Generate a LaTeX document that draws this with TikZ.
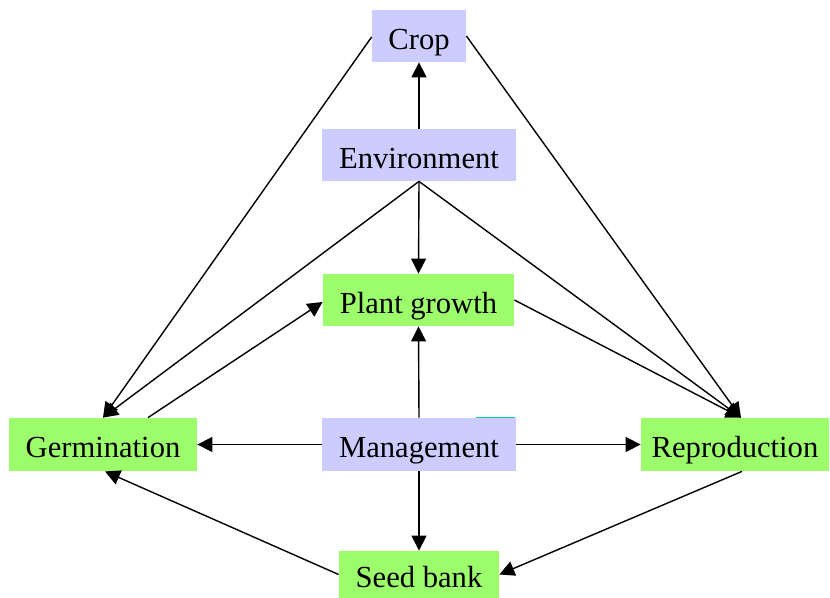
\documentclass[tikz,border=0pt]{standalone}
\usepackage{fontspec}
\setmainfont{Liberation Serif}
\usetikzlibrary{arrows.meta,calc}
\definecolor{lav}{RGB}{204,204,255}
\definecolor{grn}{RGB}{156,252,108}
\definecolor{tealmark}{RGB}{0,204,153}
\tikzset{
  box/.style={inner sep=0pt, font=\fontsize{15.3pt}{18pt}\selectfont, text=black, text height=13.3pt, text depth=0pt},
  lavbox/.style={box, fill=lav},
  grnbox/.style={box, fill=grn},
  conn/.style={line width=0.7pt, -{Triangle[length=7.5pt,width=7.5pt]}},
}
\begin{document}
\begin{tikzpicture}[x=0.5pt,y=-0.5pt]
\useasboundingbox (0,0) rectangle (830,598);
\node[lavbox, minimum width=47pt, minimum height=26pt] (crop) at (419,36) {Crop};
\node[lavbox, minimum width=97pt, minimum height=26pt] (env) at (419,155) {Environment};
\node[grnbox, minimum width=95.5pt, minimum height=26pt] (plant) at (418.5,300) {Plant growth};
\node[grnbox, minimum width=94pt, minimum height=26.5pt] (germ) at (103,444.5) {Germination};
\node[lavbox, minimum width=97pt, minimum height=26.5pt] (mgmt) at (419,444.5) {Management};
\node[grnbox, minimum width=94pt, minimum height=26.5pt] (repro) at (735,444.5) {Reproduction};
\node[grnbox, minimum width=80pt, minimum height=23.5pt] (seed) at (419,574.5) {Seed bank};
\coordinate (rtip) at ($(repro.north)+(6,0)$);
\draw[conn] (env.north) -- (crop.south);
\draw[conn] (env.south) -- (plant.north);
\draw[conn] (env.south) -- (germ.north);
\draw[conn] (env.south) -- (rtip);
\draw[conn] ($(crop.west)+(0,1)$) -- (germ.north);
\draw[conn] (crop.east) -- (rtip);
\draw[conn] (plant.east) -- (rtip);
\draw[conn] ($(germ.north)+(45,0)$) -- ($(plant.west)+(0,2)$);
\draw[conn] (mgmt.north) -- (plant.south);
\draw[conn] (mgmt.west) -- (germ.east);
\draw[conn] (mgmt.east) -- (repro.west);
\draw[conn] (mgmt.south) -- (seed.north);
\draw[conn] ($(repro.south)+(7,0)$) -- (seed.east);
\draw[conn] (seed.west) -- ($(germ.south)+(2,0)$);
\draw[tealmark, line width=0.6pt] (476,417.5) -- (515,417.5);
\end{tikzpicture}
\end{document}
